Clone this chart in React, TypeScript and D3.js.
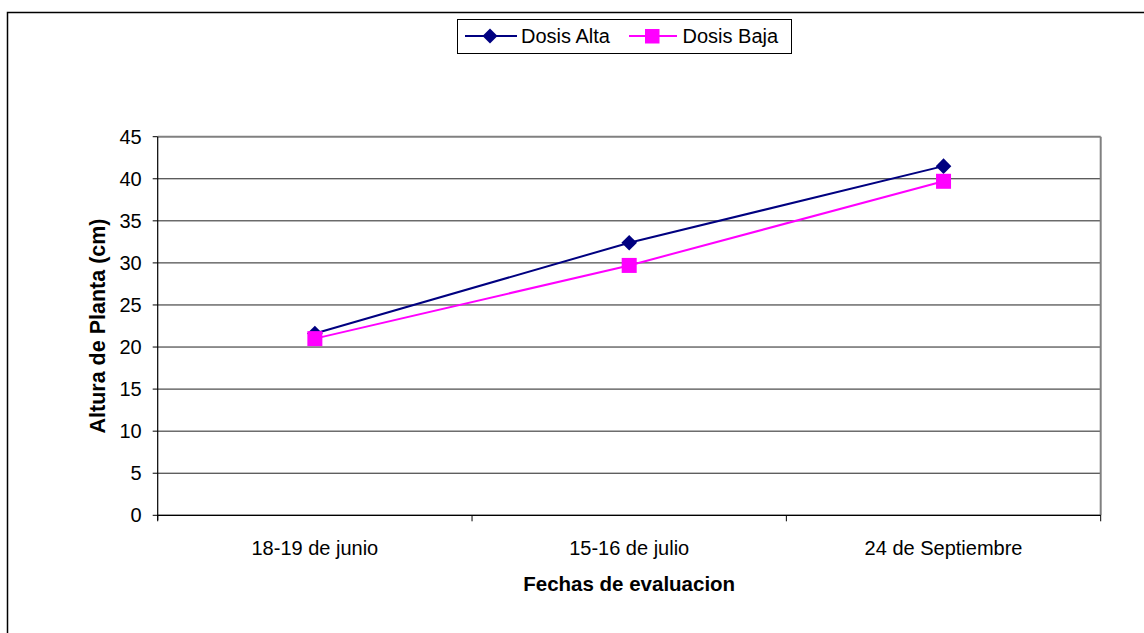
import React from "react";
import * as d3 from "d3";

const categories = ["18-19 de junio", "15-16 de julio", "24 de Septiembre"];
const dosisAlta = [21.6, 32.4, 41.5];
const dosisBaja = [21.0, 29.7, 39.7];
const yTicks = [0, 5, 10, 15, 20, 25, 30, 35, 40, 45];
const seriesNames = ["Dosis Alta", "Dosis Baja"];

const W = 1144;
const H = 633;
const plot = { left: 157.7, right: 1100.7, top: 136.7, bottom: 515.3 };
const FONT = "'Liberation Sans', Arial, sans-serif";
const FS = 20;

export default function App() {
  const x = d3.scaleBand<string>().domain(categories).range([plot.left, plot.right]);
  const y = d3.scaleLinear().domain([0, 45]).range([plot.bottom, plot.top]);
  const cx = (c: string) => (x(c) as number) + x.bandwidth() / 2;
  const line = d3
    .line<number>()
    .x((_, i) => cx(categories[i]))
    .y((d) => y(d));
  const diamond = (px: number, py: number, r: number) =>
    `M${px},${py - r}L${px + r},${py}L${px},${py + r}L${px - r},${py}Z`;
  const boundaries = [...categories.map((c) => x(c) as number), plot.right];

  return (
    <svg
      width={W}
      height={H}
      style={{ position: "absolute", left: 0, top: 0, display: "block" }}
      fontFamily={FONT}
    >
      <rect x={0} y={0} width={W} height={H} fill="#fff" />
      <rect x={7.5} y={12.5} width={W + 20} height={H + 20} fill="none" stroke="#000" strokeWidth={1.5} />

      {/* gridlines */}
      {yTicks.map((t) => (
        <line
          key={t}
          x1={plot.left}
          x2={plot.right}
          y1={y(t)}
          y2={y(t)}
          stroke={t === 45 ? "#808080" : "#222"}
          strokeWidth={t === 45 ? 2 : 1}
        />
      ))}
      {/* right border */}
      <line x1={plot.right} x2={plot.right} y1={plot.top} y2={plot.bottom} stroke="#808080" strokeWidth={2} />
      {/* axes */}
      <line x1={plot.left} x2={plot.left} y1={plot.top} y2={plot.bottom + 5} stroke="#000" strokeWidth={1.2} />
      <line x1={plot.left} x2={plot.right} y1={plot.bottom} y2={plot.bottom} stroke="#000" strokeWidth={1.2} />
      {yTicks.map((t) => (
        <g key={"yt" + t}>
          <line x1={plot.left - 5} x2={plot.left} y1={y(t)} y2={y(t)} stroke="#000" strokeWidth={1} />
          <text x={plot.left - 16} y={y(t)} dy="0.35em" textAnchor="end" fontSize={FS} fill="#000">
            {t}
          </text>
        </g>
      ))}
      {boundaries.map((b, i) => (
        <line key={"xb" + i} x1={b} x2={b} y1={plot.bottom} y2={plot.bottom + 6} stroke="#000" strokeWidth={1} />
      ))}
      {categories.map((c) => (
        <text key={c} x={cx(c)} y={548} dy="0.35em" textAnchor="middle" fontSize={FS} fill="#000">
          {c}
        </text>
      ))}
      <text x={(plot.left + plot.right) / 2} y={584} dy="0.35em" textAnchor="middle" fontSize={20.5} fontWeight="bold">
        Fechas de evaluacion
      </text>
      <text
        transform={`translate(97,${(plot.top + plot.bottom) / 2}) rotate(-90)`}
        dy="0.35em"
        textAnchor="middle"
        fontSize={21.5}
        fontWeight="bold"
      >
        Altura de Planta (cm)
      </text>

      {/* series */}
      <path d={line(dosisAlta) || ""} fill="none" stroke="#000080" strokeWidth={2} />
      <path d={line(dosisBaja) || ""} fill="none" stroke="#FF00FF" strokeWidth={2} />
      {dosisAlta.map((v, i) => (
        <path key={"a" + i} d={diamond(cx(categories[i]), y(v), 7.8)} fill="#000080" />
      ))}
      {dosisBaja.map((v, i) => (
        <rect key={"b" + i} x={cx(categories[i]) - 7.5} y={y(v) - 7.5} width={15} height={15} fill="#FF00FF" />
      ))}

      {/* legend */}
      <rect x={457.5} y={19.5} width={334} height={34} fill="#fff" stroke="#000" strokeWidth={1} />
      <line x1={465} x2={517} y1={36} y2={36} stroke="#000080" strokeWidth={2} />
      <path d={diamond(490, 36, 7.5)} fill="#000080" />
      <text x={521} y={36} dy="0.35em" fontSize={FS}>{seriesNames[0]}</text>
      <line x1={629} x2={677} y1={36} y2={36} stroke="#FF00FF" strokeWidth={2} />
      <rect x={645} y={29} width={14.5} height={14.5} fill="#FF00FF" />
      <text x={682.5} y={36} dy="0.35em" fontSize={FS}>{seriesNames[1]}</text>
    </svg>
  );
}
